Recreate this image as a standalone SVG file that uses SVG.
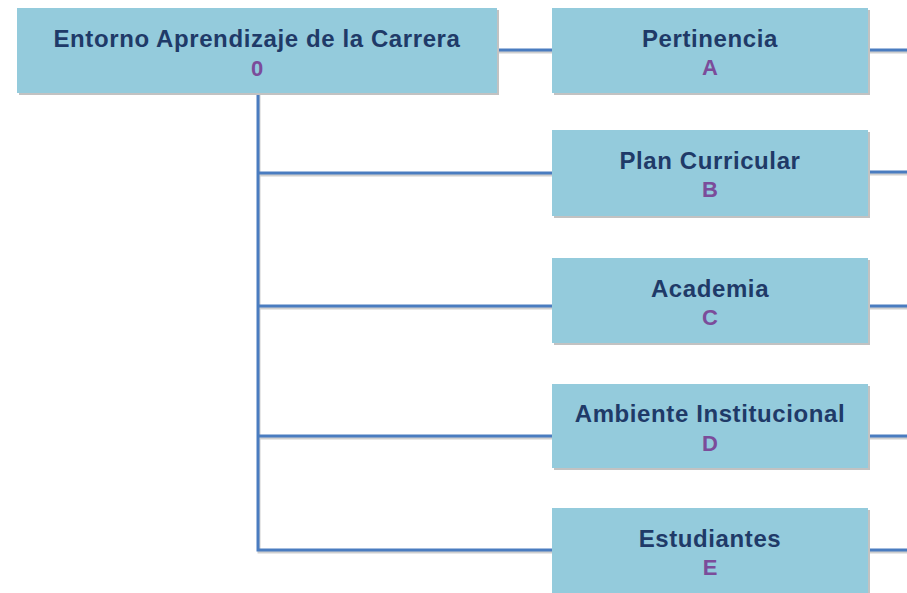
<svg xmlns="http://www.w3.org/2000/svg" width="907" height="593" viewBox="0 0 907 593">
<defs>
<style>
.box{fill:#94CBDC;}
.sh{fill:#c2c2c2;}
.t{font-family:"Liberation Sans",Arial,sans-serif;font-weight:bold;font-size:24px;letter-spacing:0.6px;fill:#1F3A68;text-anchor:middle;}
.l{font-family:"Liberation Sans",Arial,sans-serif;font-weight:bold;font-size:22px;fill:#7B4C9A;text-anchor:middle;}
.c{stroke:#4A7CC0;stroke-width:3;fill:none;}
.cs{stroke:#cfcfcf;stroke-width:3;fill:none;}
</style>
</defs>
<rect width="907" height="593" fill="#ffffff"/>
<g id="connectors">
<g transform="translate(1,2)">
<path class="cs" d="M258,93 V550 H552 M258,173 H552 M258,306 H552 M258,436 H552 M497,50 H552 M868,50 H907 M868,172 H907 M868,306 H907 M868,436 H907 M868,550 H907"/>
</g>
<path class="c" d="M258,93 V550 H552 M258,173 H552 M258,306 H552 M258,436 H552 M497,50 H552 M868,50 H907 M868,172 H907 M868,306 H907 M868,436 H907 M868,550 H907"/>
</g>
<g id="node-0">
<rect class="sh" x="19" y="10" width="480" height="85"/>
<rect class="box" x="17" y="8" width="480" height="85"/>
<text class="t" x="257" y="47">Entorno Aprendizaje de la Carrera</text>
<text class="l" x="257" y="76">0</text>
</g>
<g id="node-A">
<rect class="sh" x="554" y="10" width="316" height="85"/>
<rect class="box" x="552" y="8" width="316" height="85"/>
<text class="t" x="710" y="46.5">Pertinencia</text>
<text class="l" x="710" y="75">A</text>
</g>
<g id="node-B">
<rect class="sh" x="554" y="132" width="316" height="86"/>
<rect class="box" x="552" y="130" width="316" height="86"/>
<text class="t" x="710" y="168.5">Plan Curricular</text>
<text class="l" x="710" y="197">B</text>
</g>
<g id="node-C">
<rect class="sh" x="554" y="260" width="316" height="85"/>
<rect class="box" x="552" y="258" width="316" height="85"/>
<text class="t" x="710" y="296.5">Academia</text>
<text class="l" x="710" y="325">C</text>
</g>
<g id="node-D">
<rect class="sh" x="554" y="386" width="316" height="84"/>
<rect class="box" x="552" y="384" width="316" height="84"/>
<text class="t" x="710" y="422">Ambiente Institucional</text>
<text class="l" x="710" y="451">D</text>
</g>
<g id="node-E">
<rect class="sh" x="554" y="510" width="316" height="85"/>
<rect class="box" x="552" y="508" width="316" height="85"/>
<text class="t" x="710" y="546.5">Estudiantes</text>
<text class="l" x="710" y="575">E</text>
</g>
</svg>
